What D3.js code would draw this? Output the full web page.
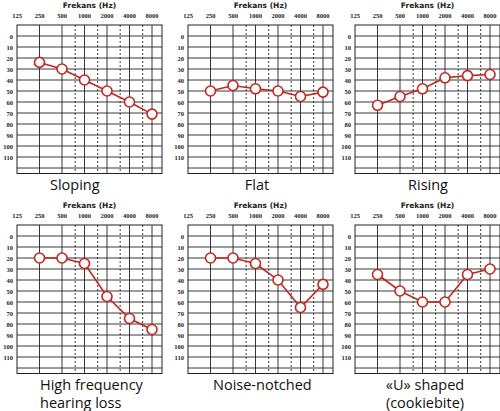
<!DOCTYPE html>
<html><head><meta charset="utf-8">
<script src="https://cdn.jsdelivr.net/npm/d3@7"></script>
<style>body{margin:0;background:#fff}</style>
</head><body><div id="chart"></div>
<script>
const freqs = [250, 500, 1000, 2000, 4000, 8000];
const freqLabels = ["125", "250", "500", "1000", "2000", "4000", "8000"];
const dbTicks = [0, 10, 20, 30, 40, 50, 60, 70, 80, 90, 100, 110];
const halfOctaves = [750, 1500, 3000, 6000];

const titles = [["Sloping"], ["Flat"], ["Rising"], ["High frequency", "hearing loss"], ["Noise-notched"], ["«U» shaped", "(cookiebite)"]];
const sloping = [24, 30, 40, 50, 60, 71];
const flat = [50, 45, 48, 50, 55, 51];
const rising = [63, 55, 48, 38, 36, 35];
const highFreq = [20, 20, 25, 55, 75, 85];
const noiseNotched = [20, 20, 25, 40, 65, 44];
const uShaped = [35, 50, 60, 60, 35, 30];
const series = [sloping, flat, rising, highFreq, noiseNotched, uShaped];

const width = 500, height = 411;
const svg = d3.select("#chart").append("svg").attr("width", width).attr("height", height);

const panelX = [17, 188, 355];
const panelY = [0, 200];
const boxW = 145;
const titleX = [[50, "start"], [257, "middle"], [428, "middle"], [40, "start"], [213, "start"], [425, "middle"]];

const x = d3.scaleLog().domain([125, 8000]).range([0, 135]);
const y = d3.scaleLinear().domain([-10, 125]).range([25, 173.5]);
const red = "#c0281e";

series.forEach((vals, i) => {
  const col = i % 3, row = Math.floor(i / 3);
  const g = svg.append("g").attr("transform", `translate(${panelX[col]},${panelY[row]})`);

  // grid
  g.selectAll(".h").data(dbTicks.concat([120])).join("line")
    .attr("x1", 0).attr("x2", boxW).attr("y1", d => y(d)).attr("y2", d => y(d))
    .attr("stroke", "#222").attr("stroke-width", 0.9);
  g.selectAll(".v").data(freqs).join("line")
    .attr("x1", d => x(d)).attr("x2", d => x(d)).attr("y1", y(-10)).attr("y2", y(125))
    .attr("stroke", "#222").attr("stroke-width", 0.9);
  g.selectAll(".d").data(halfOctaves).join("line")
    .attr("x1", d => x(d)).attr("x2", d => x(d)).attr("y1", y(-10)).attr("y2", y(125))
    .attr("stroke", "#222").attr("stroke-width", 0.9).attr("stroke-dasharray", "2,2");
  g.append("rect").attr("x", 0).attr("y", y(-10)).attr("width", boxW).attr("height", y(125) - y(-10))
    .attr("fill", "none").attr("stroke", "#222").attr("stroke-width", 1);

  // tick labels
  g.selectAll(".fl").data(freqLabels).join("text")
    .attr("x", d => x(+d)).attr("y", 18).attr("text-anchor", "middle")
    .style("font", "bold 6.5px 'Liberation Serif', serif").attr("fill", "#222").text(d => d);
  g.selectAll(".dl").data(dbTicks).join("text")
    .attr("x", -4).attr("y", d => y(d) + 2.5).attr("text-anchor", "end")
    .style("font", "bold 6.5px 'Liberation Serif', serif").attr("fill", "#222").text(d => d);
  g.append("text").attr("x", boxW / 2).attr("y", 8).attr("text-anchor", "middle")
    .style("font", "bold 7.5px 'DejaVu Sans', sans-serif").attr("fill", "#222").text("Frekans (Hz)");

  // data line and markers
  const pts = freqs.map((f, j) => [f, vals[j]]);
  g.append("path").datum(pts)
    .attr("d", d3.line().x(d => x(d[0])).y(d => y(d[1])))
    .attr("fill", "none").attr("stroke", red).attr("stroke-width", 1.6);
  g.selectAll(".p").data(pts).join("circle")
    .attr("cx", d => x(d[0])).attr("cy", d => y(d[1])).attr("r", 5)
    .attr("fill", "#fff").attr("stroke", red).attr("stroke-width", 1.6);

  // title
  const [tx, anchor] = titleX[i];
  titles[i].forEach((t, k) => {
    svg.append("text").attr("x", tx).attr("y", panelY[row] + 190 + k * 18)
      .attr("text-anchor", anchor)
      .style("font", "14.5px 'Open Sans', sans-serif").attr("fill", "#111").text(t);
  });
});
</script></body></html>
